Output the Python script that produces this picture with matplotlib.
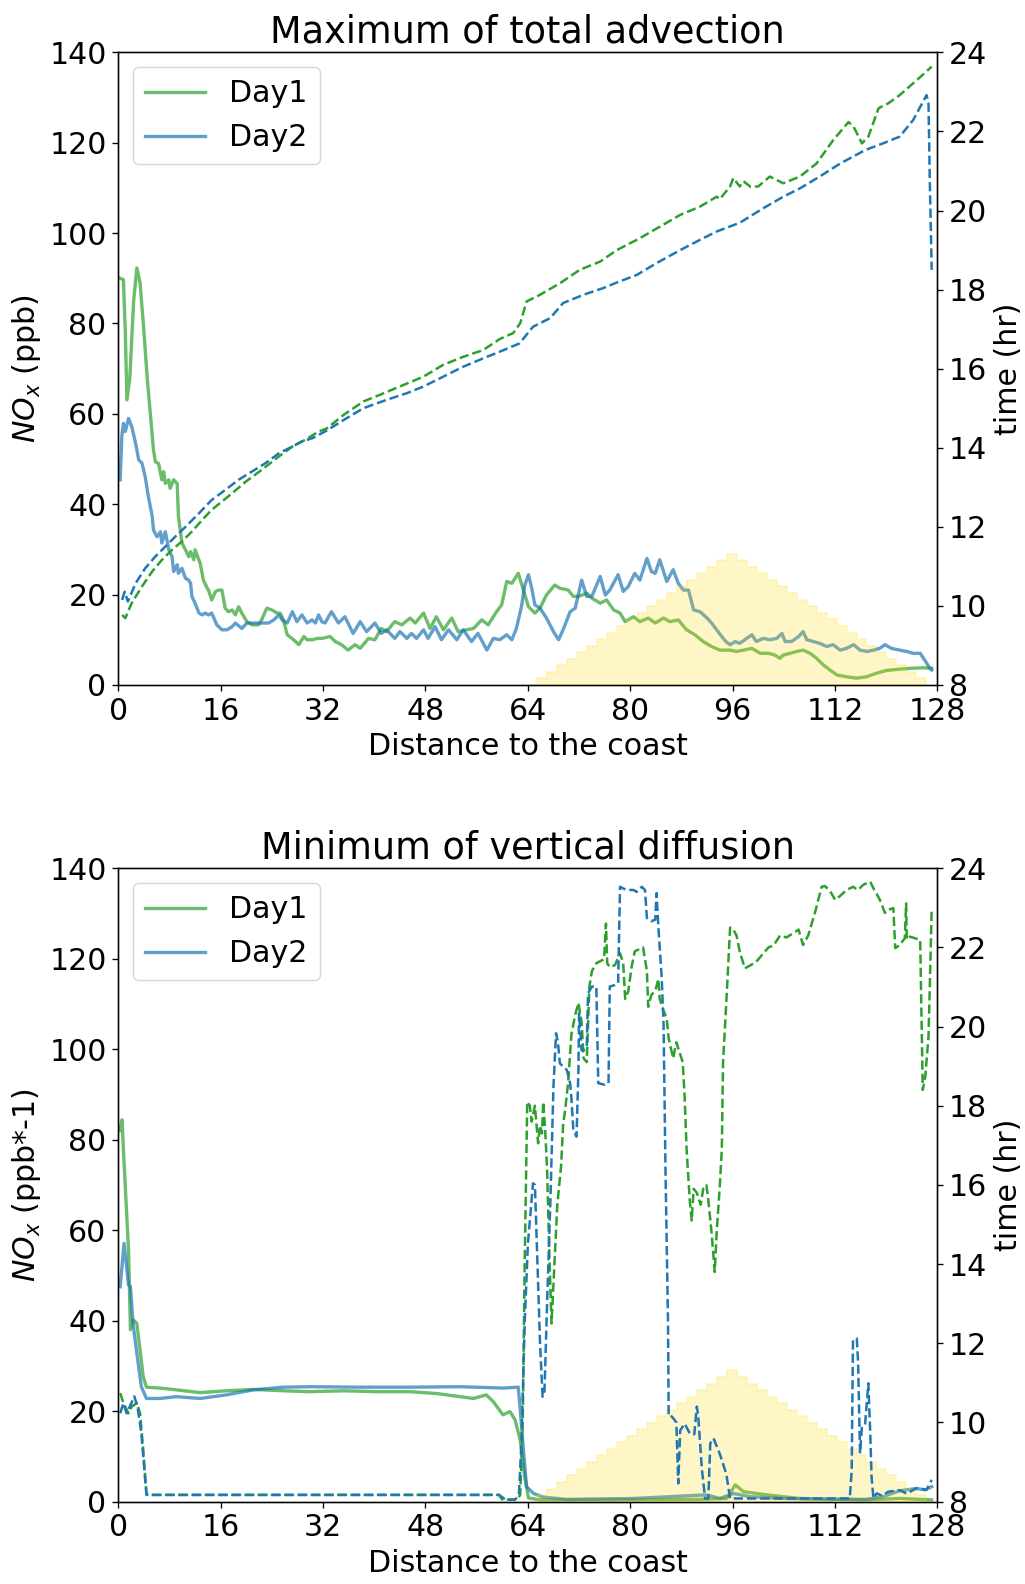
import numpy as np
import matplotlib
matplotlib.use("Agg")
import matplotlib.pyplot as plt

# ---------------- data ----------------
# Distance to the coast axis
xticks = [0, 16, 32, 48, 64, 80, 96, 112, 128]

# Terrain profile (step heights in ppb-axis units), starting at terrain_x0 with spacing terrain_dx
terrain_x0 = 64.65
terrain_dx = 1.56
terrain_h = [0.0, 1.5, 2.9, 4.4, 5.8, 7.3, 8.7, 10.2, 11.6, 13.1, 14.5, 16.0, 17.4, 18.9,
             20.3, 21.8, 23.2, 24.7, 26.1, 27.6, 29.0, 27.6, 26.1, 24.7, 23.2, 21.8, 20.3,
             18.9, 17.4, 16.0, 14.5, 13.1, 11.6, 10.2, 8.7, 7.3, 5.8, 4.4, 2.9, 1.5, 0.0]

# --- Maximum of total advection: NOx (ppb) ---
adv_day1_x = [0.3, 0.8, 1.1, 1.35, 1.8, 2.4, 2.9, 3.4, 3.95, 4.5, 5.0, 5.5, 5.8, 6.3, 6.8, 7.1,
              7.35, 7.9, 8.1, 8.65, 9.2, 9.4, 9.95, 10.5, 11.0, 11.3, 11.8, 12.0, 12.8, 13.3,
              13.9, 14.1, 14.6, 15.2, 15.7, 16.2, 16.7, 17.2, 17.8, 18.3, 18.8, 19.3, 20.1,
              20.9, 21.9, 22.4, 23.2, 24.0, 24.8, 25.3, 25.8, 26.4, 27.4, 28.2, 29.0, 29.5,
              30.3, 31.1, 31.8, 33.1, 33.9, 34.9, 35.9, 37.0, 37.8, 39.1, 40.1, 41.1, 41.9,
              43.2, 44.3, 45.6, 46.4, 47.7, 48.7, 49.7, 50.8, 52.1, 53.1, 54.4, 55.5, 56.8,
              57.8, 59.1, 59.9, 60.7, 61.5, 62.5, 63.3, 64.1, 65.1, 65.9, 66.9, 68.2, 69.0,
              70.3, 71.1, 71.9, 73.2, 74.0, 75.3, 76.3, 77.4, 78.4, 79.2, 80.5, 81.5, 82.8,
              83.9, 85.2, 86.2, 87.5, 88.8, 90.1, 91.4, 92.7, 94.0, 95.6, 96.6, 97.7, 99.0,
              100.3, 101.6, 102.6, 103.4, 103.9, 105.0, 106.0, 107.0, 108.1, 109.1, 110.2,
              111.2, 112.3, 113.8, 115.4, 116.9, 118.5, 120.0, 122.1, 124.2, 125.8, 127.1]
adv_day1_y = [90.0, 89.7, 78.0, 63.1, 68.0, 85.0, 92.3, 89.0, 79.3, 68.3, 60.1, 52.0, 49.4, 49.0,
              45.4, 47.2, 44.6, 45.4, 43.5, 45.4, 44.6, 37.3, 31.4, 29.9, 28.4, 29.5, 27.7,
              29.9, 26.9, 23.2, 21.4, 21.0, 18.8, 20.7, 21.0, 21.0, 17.0, 16.2, 16.6, 15.5,
              17.3, 15.9, 14.0, 13.3, 13.3, 14.4, 17.0, 16.6, 15.9, 15.9, 14.4, 11.1, 10.0,
              8.9, 10.7, 10.0, 10.0, 10.3, 10.3, 10.7, 9.6, 8.9, 7.7, 8.9, 8.1, 10.3, 10.0,
              12.5, 11.8, 14.0, 13.3, 14.8, 13.7, 15.9, 12.5, 15.1, 12.2, 14.8, 11.8, 12.2,
              12.5, 14.4, 13.3, 16.2, 17.7, 22.9, 22.5, 24.7, 21.0, 17.3, 15.9, 17.0, 19.9,
              22.1, 21.4, 21.0, 19.6, 19.6, 20.3, 19.2, 18.1, 18.8, 16.6, 15.9, 14.0, 15.1,
              14.0, 14.8, 13.7, 14.8, 14.0, 14.4, 12.2, 11.1, 9.6, 8.5, 7.7, 7.7, 7.4, 7.7,
              8.1, 7.0, 7.0, 6.6, 5.9, 6.6, 7.0, 7.4, 7.7, 7.0, 5.9, 4.4, 3.3, 2.2, 1.8, 1.5,
              1.8, 2.6, 3.2, 3.5, 3.7, 3.8, 3.7]

adv_day2_x = [0.3, 0.55, 0.8, 1.1, 1.6, 2.1, 2.7, 3.2, 3.7, 4.2, 4.7, 5.3, 5.5, 6.05, 6.6, 6.8,
              7.35, 7.9, 8.4, 8.65, 9.2, 9.4, 9.95, 10.5, 11.0, 11.3, 11.5, 12.0, 12.6, 13.1,
              13.6, 14.1, 14.6, 15.4, 16.2, 17.0, 17.8, 18.3, 19.3, 20.1, 20.9, 22.2, 23.5,
              24.3, 25.1, 25.6, 26.4, 27.2, 27.9, 28.7, 29.5, 30.3, 30.8, 31.3, 31.8, 32.3,
              33.3, 34.4, 35.4, 36.7, 37.8, 38.8, 40.1, 41.1, 41.9, 43.2, 44.0, 45.1, 45.8,
              46.6, 47.7, 48.4, 49.5, 50.5, 51.6, 52.9, 53.9, 55.2, 56.2, 57.6, 58.6, 59.6,
              60.7, 61.5, 62.2, 63.0, 63.5, 64.1, 64.6, 65.1, 65.9, 66.9, 68.0, 68.8, 69.5,
              70.6, 71.4, 72.4, 73.2, 74.0, 75.3, 76.1, 76.8, 78.1, 78.9, 79.7, 80.7, 81.5,
              82.6, 83.3, 83.9, 84.6, 85.7, 86.7, 87.5, 88.3, 89.1, 89.9, 90.9, 92.0, 92.7,
              93.5, 94.3, 95.0, 95.6, 96.4, 97.1, 97.9, 99.0, 99.7, 100.8, 101.8, 102.9,
              103.7, 104.2, 105.2, 106.3, 107.0, 107.6, 108.6, 109.6, 110.7, 111.7, 112.8,
              113.8, 114.9, 115.9, 117.0, 118.0, 119.0, 119.8, 120.8, 122.1, 123.2, 124.2,
              125.3, 126.0, 126.8, 127.1]
adv_day2_y = [45.4, 55.0, 57.9, 56.1, 59.0, 57.2, 53.5, 49.8, 49.1, 46.1, 41.7, 37.3, 34.3, 32.8,
              33.9, 31.4, 33.9, 29.9, 28.4, 25.1, 26.6, 24.7, 25.8, 23.6, 23.2, 22.5, 19.6,
              18.1, 15.9, 15.5, 15.9, 15.5, 15.9, 13.3, 12.2, 12.2, 12.9, 13.7, 12.5, 13.7,
              13.7, 13.7, 13.7, 14.4, 15.5, 14.4, 13.7, 16.2, 14.0, 15.5, 13.7, 14.4, 13.7,
              15.5, 14.0, 13.7, 16.2, 13.7, 15.1, 11.4, 14.0, 11.8, 13.7, 11.4, 12.2, 10.3,
              11.8, 10.3, 11.4, 10.3, 12.2, 10.3, 12.9, 10.0, 12.2, 10.0, 12.2, 9.6, 11.4,
              7.7, 10.3, 10.0, 11.1, 10.0, 12.5, 17.3, 22.0, 24.4, 21.4, 17.7, 17.0, 14.8,
              11.8, 10.0, 12.2, 16.2, 17.0, 23.2, 19.6, 19.6, 24.0, 19.9, 21.0, 24.4, 20.7,
              21.8, 24.7, 23.2, 28.0, 25.1, 24.7, 27.7, 22.9, 25.5, 22.5, 21.0, 21.0, 16.6,
              16.2, 14.8, 13.7, 12.2, 10.7, 9.5, 8.9, 9.6, 9.2, 10.0, 11.1, 9.6, 10.3, 10.0,
              10.3, 11.4, 9.6, 9.6, 10.7, 11.8, 10.0, 9.6, 9.2, 8.5, 8.9, 7.7, 8.1, 8.9, 7.7,
              7.4, 7.7, 8.1, 8.9, 8.1, 7.7, 7.4, 7.0, 7.0, 5.5, 3.7, 3.3]

# --- Maximum of total advection: time (hr) ---
adv_t1_x = [0.6, 1.1, 2.1, 3.7, 5.3, 6.8, 8.4, 9.95, 11.5, 13.1, 14.6, 16.2, 17.8, 19.9, 22.4,
            25.1, 27.2, 29.2, 31.3, 32.6, 35.2, 38.3, 40.9, 44.0, 47.7, 50.8, 53.9, 57.0,
            59.6, 61.7, 62.8, 63.8, 65.9, 69.0, 72.1, 75.3, 77.9, 81.5, 84.6, 87.8, 90.9,
            93.5, 94.0, 95.6, 96.1, 97.1, 97.7, 98.8, 100.0, 101.8, 103.9, 106.5, 109.1,
            111.7, 114.1, 114.9, 116.2, 117.2, 118.8, 120.3, 122.1, 124.7, 127.1]
adv_t1_y = [9.77, 9.69, 10.07, 10.49, 10.87, 11.16, 11.42, 11.63, 11.88, 12.17, 12.43, 12.64,
            12.85, 13.14, 13.44, 13.78, 14.03, 14.20, 14.41, 14.49, 14.83, 15.17, 15.34,
            15.55, 15.80, 16.10, 16.30, 16.47, 16.75, 16.90, 17.15, 17.70, 17.87, 18.16,
            18.50, 18.71, 19.00, 19.30, 19.59, 19.89, 20.10, 20.35, 20.29, 20.61, 20.82,
            20.61, 20.74, 20.60, 20.61, 20.86, 20.69, 20.86, 21.19, 21.78, 22.24, 22.12,
            21.70, 21.87, 22.59, 22.71, 22.92, 23.29, 23.64]

adv_t2_x = [0.6, 1.0, 1.5, 2.7, 4.2, 5.8, 7.35, 8.9, 10.5, 12.6, 14.6, 16.7, 18.8, 20.9, 23.0,
            25.1, 27.2, 28.7, 30.3, 32.3, 35.2, 38.3, 41.9, 45.1, 47.7, 50.8, 53.9, 57.0,
            60.2, 62.7, 64.8, 67.5, 69.5, 72.7, 75.8, 77.9, 81.0, 84.1, 87.8, 90.9, 93.5,
            97.1, 100.8, 103.9, 106.5, 109.6, 112.8, 116.7, 119.5, 122.1, 124.2, 126.3,
            126.6, 126.8, 127.1]
adv_t2_y = [10.15, 10.36, 10.11, 10.57, 10.95, 11.25, 11.50, 11.75, 12.00, 12.34, 12.68, 12.93,
            13.19, 13.40, 13.61, 13.86, 14.03, 14.16, 14.24, 14.41, 14.70, 15.00, 15.21,
            15.38, 15.55, 15.80, 16.05, 16.26, 16.47, 16.64, 17.06, 17.28, 17.66, 17.87,
            18.04, 18.18, 18.37, 18.67, 19.00, 19.26, 19.47, 19.69, 20.06, 20.35, 20.56,
            20.86, 21.19, 21.53, 21.70, 21.87, 22.29, 22.92, 22.71, 20.77, 18.50]

# --- Minimum of vertical diffusion: NOx (ppb*-1) ---
dif_day1_x = [0.2, 0.6, 0.8, 1.6, 1.9, 2.3, 2.9, 3.4, 3.9, 4.4, 6.5, 9.1, 12.8, 16.9, 21.1, 25.8,
              29.9, 35.2, 40.4, 45.6, 49.7, 53.4, 55.5, 57.5, 58.6, 60.1, 61.2, 62.0, 62.8,
              63.5, 64.1, 65.9, 75.3, 90.9, 95.1, 96.4, 97.7, 101.3, 106.5, 116.9, 122.1,
              127.1]
dif_day1_y = [82.0, 84.4, 77.7, 55.6, 38.0, 40.2, 39.4, 33.5, 27.6, 25.3, 25.1, 24.7, 24.1, 24.5,
              24.8, 24.5, 24.3, 24.5, 24.3, 24.3, 23.9, 23.2, 22.8, 23.6, 22.1, 19.2, 19.9,
              18.1, 13.6, 5.5, 0.8, 0.4, 0.4, 0.5, 0.7, 3.7, 2.2, 1.5, 0.7, 0.4, 0.7, 0.4]

dif_day2_x = [0.3, 0.9, 1.6, 1.9, 2.3, 2.9, 3.6, 4.4, 6.5, 9.1, 12.8, 16.9, 21.1, 25.8, 29.9,
              37.8, 45.6, 53.4, 60.1, 62.5, 62.9, 63.3, 63.8, 64.9, 66.4, 70.0, 80.5, 88.3,
              91.9, 94.0, 96.1, 98.7, 103.9, 111.7, 116.9, 119.5, 122.1, 124.7, 126.1, 127.1]
dif_day2_y = [47.5, 57.1, 47.9, 47.5, 39.4, 32.8, 25.4, 22.8, 22.8, 23.2, 22.8, 23.6, 24.7, 25.3,
              25.4, 25.3, 25.3, 25.4, 25.1, 25.3, 18.8, 11.4, 3.3, 1.8, 1.0, 0.5, 0.7, 1.25,
              1.5, 0.7, 1.8, 1.1, 0.7, 0.5, 0.5, 1.1, 2.4, 2.9, 2.6, 3.3]

# --- Minimum of vertical diffusion: time (hr) ---
dif_t1_x = [0.3, 0.8, 1.6, 2.1, 2.9, 3.4, 3.9, 4.4, 4.6, 59.5, 60.0, 62.3, 62.8, 63.2, 63.5, 63.9,
            64.3, 64.6, 65.1, 65.6, 65.9, 66.2, 66.4, 66.7, 67.0, 67.4, 67.7, 68.0, 68.6,
            69.2, 69.5, 69.9, 70.3, 70.8, 71.4, 71.9, 72.4, 72.7, 73.2, 73.6, 74.0, 74.7,
            75.3, 75.9, 76.2, 76.4, 76.8, 77.6, 78.4, 78.9, 79.2, 79.7, 80.2, 80.7, 82.0,
            82.6, 82.8, 83.3, 83.9, 84.4, 84.6, 85.2, 85.7, 86.0, 86.7, 87.2, 87.8, 88.2,
            88.5, 88.8, 89.3, 89.6, 89.9, 90.4, 91.0, 91.4, 91.9, 92.2, 92.7, 93.2, 93.5,
            94.0, 94.3, 94.5, 95.1, 95.6, 96.1, 96.6, 97.1, 97.9, 98.8, 99.7, 100.8, 101.6,
            102.4, 103.4, 104.4, 105.5, 106.3, 107.0, 107.8, 108.9, 109.9, 110.4, 111.2,
            112.0, 112.8, 113.8, 114.8, 115.6, 116.4, 117.5, 118.0, 118.5, 119.0, 119.8,
            120.3, 121.1, 121.4, 122.1, 122.9, 123.1, 123.2, 123.7, 124.5, 125.3, 125.5,
            125.7, 126.1, 126.6, 126.8, 127.1]
dif_t1_y = [10.74, 10.49, 10.23, 10.40, 10.49, 10.23, 9.31, 8.21, 8.17, 8.17, 8.05, 8.05, 8.17,
            10.0, 14.0, 18.1, 18.0, 17.6, 18.0, 17.05, 17.5, 17.3, 18.1, 17.4, 16.4, 14.0,
            12.5, 13.5, 15.5, 16.5, 17.5, 18.0, 18.6, 19.8, 20.3, 20.6, 20.1, 19.2, 19.1,
            21.0, 21.4, 21.6, 21.65, 21.7, 22.6, 21.6, 21.5, 21.55, 21.85, 21.6, 20.7, 20.9,
            21.5, 21.9, 22.0, 21.4, 20.5, 20.8, 20.9, 21.2, 20.7, 20.4, 20.2, 19.7, 19.2,
            19.6, 19.3, 19.1, 18.2, 16.9, 15.6, 15.1, 15.9, 15.8, 15.5, 15.9, 16.0, 15.6,
            14.8, 13.8, 14.8, 16.0, 16.9, 19.1, 20.9, 22.5, 22.45, 22.3, 21.9, 21.47, 21.55,
            21.64, 21.85, 22.0, 22.05, 22.3, 22.25, 22.36, 22.45, 22.06, 22.3, 22.9, 23.53,
            23.55, 23.43, 23.2, 23.3, 23.45, 23.53, 23.45, 23.58, 23.66, 23.49, 23.35, 23.2,
            22.87, 22.95, 22.99, 21.98, 22.06, 22.23, 23.11, 22.2, 22.27, 22.23, 22.19,
            20.25, 18.4, 18.74, 19.75, 21.0, 22.99]

dif_t2_x = [0.3, 0.8, 1.3, 1.8, 2.5, 3.0, 3.6, 4.4, 59.5, 60.5, 62.0, 62.6, 63.0, 63.5, 64.0,
            64.8, 65.1, 65.5, 65.9, 66.3, 66.6, 67.0, 67.5, 68.0, 68.4, 68.7, 69.0, 70.1,
            70.6, 70.8, 71.1, 71.6, 71.9, 72.0, 72.4, 72.7, 73.2, 73.4, 74.0, 74.7, 75.0,
            76.0, 76.6, 76.8, 77.6, 78.1, 78.4, 79.4, 80.5, 81.0, 81.8, 82.3, 82.6, 83.3,
            83.9, 84.1, 84.4, 84.9, 85.2, 85.5, 85.9, 86.0, 86.5, 87.2, 87.5, 87.8, 88.5,
            89.3, 90.0, 90.4, 90.6, 91.2, 91.7, 92.2, 92.5, 93.0, 94.0, 95.0, 95.6, 114.3,
            114.6, 114.8, 115.4, 115.6, 115.9, 116.2, 116.7, 117.2, 117.5, 117.7, 118.0,
            118.5, 119.3, 120.3, 122.1, 123.2, 124.7, 126.3, 127.1]
dif_t2_y = [10.23, 10.49, 10.23, 10.40, 10.66, 10.40, 9.73, 8.17, 8.17, 8.05, 8.05, 8.17, 9.5,
            12.5, 14.5, 16.04, 16.0, 14.0, 12.0, 10.65, 10.8, 13.0, 15.5, 18.5, 19.83, 19.6,
            19.07, 18.9, 18.57, 18.2, 17.39, 17.22, 18.9, 20.34, 19.4, 19.4, 19.49, 20.84,
            21.01, 21.01, 18.57, 18.53, 18.57, 21.01, 21.05, 21.09, 23.53, 23.45, 23.45,
            23.4, 23.53, 23.45, 22.74, 22.66, 22.7, 23.37, 22.49, 21.26, 20.08, 16.4, 12.5,
            10.15, 10.15, 10.0, 8.46, 9.8, 9.97, 9.72, 9.7, 10.4, 10.2, 8.8, 8.08, 8.08,
            9.47, 9.6, 9.2, 8.7, 8.08, 8.08, 8.8, 12.08, 12.12, 11.5, 9.22, 9.9, 9.97, 10.99,
            9.72, 8.63, 8.08, 8.21, 8.15, 8.25, 8.29, 8.2, 8.34, 8.3, 8.55]

# ---------------- figure ----------------
FS = 21.6
plt.rcParams['font.family'] = ['DejaVu Sans']
plt.rcParams['font.size'] = FS
plt.rcParams['axes.linewidth'] = 0.96
plt.rcParams['xtick.major.size'] = 4.2
plt.rcParams['ytick.major.size'] = 4.2
plt.rcParams['xtick.major.width'] = 0.96
plt.rcParams['ytick.major.width'] = 0.96
plt.rcParams['xtick.major.pad'] = 4.2
plt.rcParams['ytick.major.pad'] = 4.2

green = 'tab:green'
blue = 'tab:blue'

fig = plt.figure(figsize=(10.25, 15.84), dpi=100)
positions = [[0.1154, 0.5676, 0.7992, 0.3993], [0.1154, 0.0520, 0.7992, 0.3999]]

panels = [
    dict(title='Maximum of total advection', ylabel=r'$NO_x$ (ppb)',
         d1=(adv_day1_x, adv_day1_y), d2=(adv_day2_x, adv_day2_y),
         t1=(adv_t1_x, adv_t1_y), t2=(adv_t2_x, adv_t2_y)),
    dict(title='Minimum of vertical diffusion', ylabel=r'$NO_x$ (ppb*-1)',
         d1=(dif_day1_x, dif_day1_y), d2=(dif_day2_x, dif_day2_y),
         t1=(dif_t1_x, dif_t1_y), t2=(dif_t2_x, dif_t2_y)),
]

terrain_x = terrain_x0 + terrain_dx * np.arange(len(terrain_h))

for pos, p in zip(positions, panels):
    ax = fig.add_axes(pos)
    ax.plot(*p['d1'], color=green, alpha=0.7, lw=2.4, label='Day1', zorder=2)
    ax.plot(*p['d2'], color=blue, alpha=0.7, lw=2.4, label='Day2', zorder=2)
    ax.fill_between(terrain_x, 0, terrain_h, step='mid', color='gold', alpha=0.22,
                    lw=1.2, zorder=3)
    ax.set_xlim(0, 128)
    ax.set_ylim(0, 140)
    ax.set_xticks(xticks)
    ax.set_yticks(np.arange(0, 141, 20))
    ax.set_xlabel('Distance to the coast', labelpad=4.8)
    ax.set_ylabel(p['ylabel'], labelpad=4.8)
    ax.set_title(p['title'], fontsize=26.4, pad=7.2)
    ax.legend(loc='upper left', handlelength=2.0, fontsize=FS)

    ax2 = ax.twinx()
    ax2.plot(*p['t1'], color=green, lw=1.8, ls='--')
    ax2.plot(*p['t2'], color=blue, lw=1.8, ls='--')
    ax2.set_ylim(8, 24)
    ax2.set_yticks(np.arange(8, 25, 2))
    ax2.set_ylabel('time (hr)', labelpad=4.8)

fig.savefig('out.png', dpi=100)
